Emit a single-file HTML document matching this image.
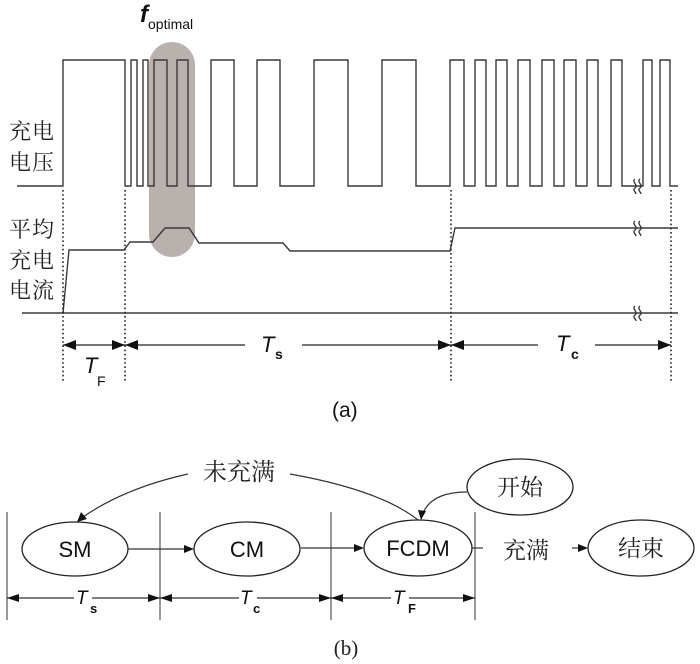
<!DOCTYPE html>
<html><head><meta charset="utf-8"><style>
html,body{margin:0;padding:0;background:#fff;}
svg{display:block;}
.s{font-family:"Liberation Sans",Arial,sans-serif;}
.c{font-family:"Noto Serif CJK SC","Noto Serif CJK SC",serif;}
.b{font-family:"Liberation Serif",serif;}
</style></head><body>
<svg width="700" height="664" viewBox="0 0 700 664" xmlns="http://www.w3.org/2000/svg">
<!-- gray capsule -->
<rect x="149" y="42" width="46" height="215" rx="23" ry="23" fill="#b9b1ae"/>

<!-- voltage waveform -->
<path d="M17,186 H63 V60 H125 V186 H131 V60 H137 V186 H143 V60 H148 V186 H154 V60 H167 V186 H177 V60 H188 V186 H211 V60 H234 V186 H257 V60 H280 V186 H314 V60 H348 V186 H382 V60 H416 V186 H450 V60 H464 V186 H475 V60 H486 V186 H496 V60 H507 V186 H518 V60 H530 V186 H542 V60 H554 V186 H564 V60 H576 V186 H587 V60 H598 V186 H611 V60 H622 V186 H643 V60 H652 V186 H660 V60 H670 V186 H678" fill="none" stroke="#3a3a3a" stroke-width="1.4"/>

<!-- current -->
<path d="M22,313 H678" fill="none" stroke="#3a3a3a" stroke-width="1.4"/>
<path d="M63,313 L69,250 H124 L130,242 H153 L165,228 H189 L199,243 H283 L290,251 H450 L455,228 H678" fill="none" stroke="#3a3a3a" stroke-width="1.4"/>

<!-- break symbols -->
<g fill="none" stroke="#333" stroke-width="1.3">
<path d="M635,179 c-4,3 4,6 0,9 c-3,2 1,4 1,6"/>
<path d="M640,179 c-4,3 4,6 0,9 c-3,2 1,4 1,6"/>
<path d="M635,221 c-4,3 4,6 0,9 c-3,2 1,4 1,6"/>
<path d="M640,221 c-4,3 4,6 0,9 c-3,2 1,4 1,6"/>
<path d="M635,306 c-4,3 4,6 0,9 c-3,2 1,4 1,6"/>
<path d="M640,306 c-4,3 4,6 0,9 c-3,2 1,4 1,6"/>
</g>

<!-- dotted verticals -->
<g stroke="#222" stroke-width="1.6" stroke-dasharray="1.6 2.6">
<line x1="63" y1="190" x2="63" y2="382"/>
<line x1="125" y1="190" x2="125" y2="382"/>
<line x1="451" y1="190" x2="451" y2="382"/>
<line x1="671" y1="190" x2="671" y2="382"/>
</g>

<!-- (a) dimension arrows -->
<g stroke="#222" stroke-width="1.3">
<line x1="63" y1="345" x2="125" y2="345"/>
<line x1="125" y1="345" x2="245" y2="345"/>
<line x1="302" y1="345" x2="451" y2="345"/>
<line x1="451" y1="345" x2="538" y2="345"/>
<line x1="595" y1="345" x2="671" y2="345"/>
</g>
<g fill="#111">
<polygon points="63,345 76,340 76,350"/>
<polygon points="125,345 112,340 112,350"/>
<polygon points="125,345 138,340 138,350"/>
<polygon points="451,345 438,340 438,350"/>
<polygon points="451,345 464,340 464,350"/>
<polygon points="671,345 658,340 658,350"/>
</g>

<!-- labels (a) -->
<text class="c" x="9" y="139" font-size="22" fill="#222" letter-spacing="1">充电</text>
<text class="c" x="9" y="170" font-size="22" fill="#222" letter-spacing="1">电压</text>
<text class="c" x="9" y="237" font-size="22" fill="#222" letter-spacing="1">平均</text>
<text class="c" x="9" y="268" font-size="22" fill="#222" letter-spacing="1">充电</text>
<text class="c" x="9" y="298" font-size="22" fill="#222" letter-spacing="1">电流</text>

<text class="s" x="140" y="22" font-size="24" font-style="italic" font-weight="bold" fill="#111">f</text>
<text class="s" x="148" y="29" font-size="14" fill="#111">optimal</text>

<text class="s" x="84" y="373" font-size="22" font-style="italic" fill="#111">T</text>
<text class="s" x="97" y="386" font-size="14" fill="#111">F</text>
<text class="s" x="261" y="352" font-size="22" font-style="italic" fill="#111">T</text>
<text class="s" x="275" y="359" font-size="14" font-weight="bold" fill="#111">s</text>
<text class="s" x="556" y="351" font-size="22" font-style="italic" fill="#111">T</text>
<text class="s" x="571" y="359" font-size="14" font-weight="bold" fill="#111">c</text>

<text class="s" x="332" y="417" font-size="21" fill="#111">(a)</text>

<!-- (b) -->
<g stroke="#444" stroke-width="1.1">
<line x1="7" y1="512" x2="7" y2="620"/>
<line x1="160" y1="512" x2="160" y2="620"/>
<line x1="331" y1="512" x2="331" y2="620"/>
<line x1="475" y1="512" x2="475" y2="620"/>
</g>
<g stroke="#333" stroke-width="1.2">
<line x1="7" y1="598" x2="160" y2="598"/>
<line x1="160" y1="598" x2="331" y2="598"/>
<line x1="331" y1="598" x2="475" y2="598"/>
</g>
<g fill="#111">
<polygon points="7,598 19,594 19,602"/>
<polygon points="160,598 148,594 148,602"/>
<polygon points="160,598 172,594 172,602"/>
<polygon points="331,598 319,594 319,602"/>
<polygon points="331,598 343,594 343,602"/>
<polygon points="475,598 463,594 463,602"/>
</g>
<rect x="74" y="588" width="18" height="20" fill="#fff"/>
<rect x="239" y="588" width="18" height="20" fill="#fff"/>
<rect x="391" y="588" width="18" height="20" fill="#fff"/>
<text class="s" x="76" y="604" font-size="19" font-style="italic" fill="#111">T</text>
<text class="s" x="90" y="613" font-size="13" font-weight="bold" fill="#111">s</text>
<text class="s" x="240" y="604" font-size="19" font-style="italic" fill="#111">T</text>
<text class="s" x="253" y="613" font-size="13" font-weight="bold" fill="#111">c</text>
<text class="s" x="393" y="604" font-size="19" font-style="italic" fill="#111">T</text>
<text class="s" x="408" y="613" font-size="13" font-weight="bold" fill="#111">F</text>

<!-- ellipses -->
<g fill="#fff" stroke="#222" stroke-width="1.3">
<ellipse cx="75" cy="549" rx="53" ry="27"/>
<ellipse cx="247" cy="549" rx="53" ry="27"/>
<ellipse cx="418" cy="548" rx="54" ry="28"/>
<ellipse cx="520" cy="487" rx="53" ry="28"/>
<ellipse cx="641" cy="548" rx="53" ry="28"/>
</g>
<text class="s" x="75" y="557" font-size="22" fill="#111" text-anchor="middle">SM</text>
<text class="s" x="247" y="557" font-size="22" fill="#111" text-anchor="middle">CM</text>
<text class="s" x="418" y="556" font-size="22" fill="#111" text-anchor="middle">FCDM</text>
<text class="c" x="520" y="495" font-size="23" fill="#222" text-anchor="middle">开始</text>
<text class="c" x="641" y="556" font-size="23" fill="#222" text-anchor="middle">结束</text>
<text class="c" x="526" y="558" font-size="23" fill="#222" text-anchor="middle">充满</text>
<text class="c" x="239" y="480" font-size="24" fill="#222" text-anchor="middle">未充满</text>

<!-- connectors -->
<g stroke="#333" stroke-width="1.2" fill="none">
<line x1="128" y1="549" x2="188" y2="549"/>
<line x1="301" y1="548" x2="358" y2="548"/>
<line x1="472" y1="548" x2="483" y2="548"/>
<line x1="572" y1="548" x2="582" y2="548"/>
<path d="M188,474 Q125,488 83,517"/>
<path d="M290,474 Q380,490 418,520"/>
<path d="M467,492 Q432,492 423,513"/>
</g>
<g fill="#111">
<polygon points="194,549 184,545 184,553"/>
<polygon points="364,548 354,544 354,552"/>
<polygon points="588,548 578,544 578,552"/>
<polygon points="77,522 81,512 87,519"/>
<polygon points="421,520 418,510 426,511"/>
</g>

<text class="b" x="346" y="655" font-size="21" fill="#222" text-anchor="middle">(b)</text>
</svg>
</body></html>
